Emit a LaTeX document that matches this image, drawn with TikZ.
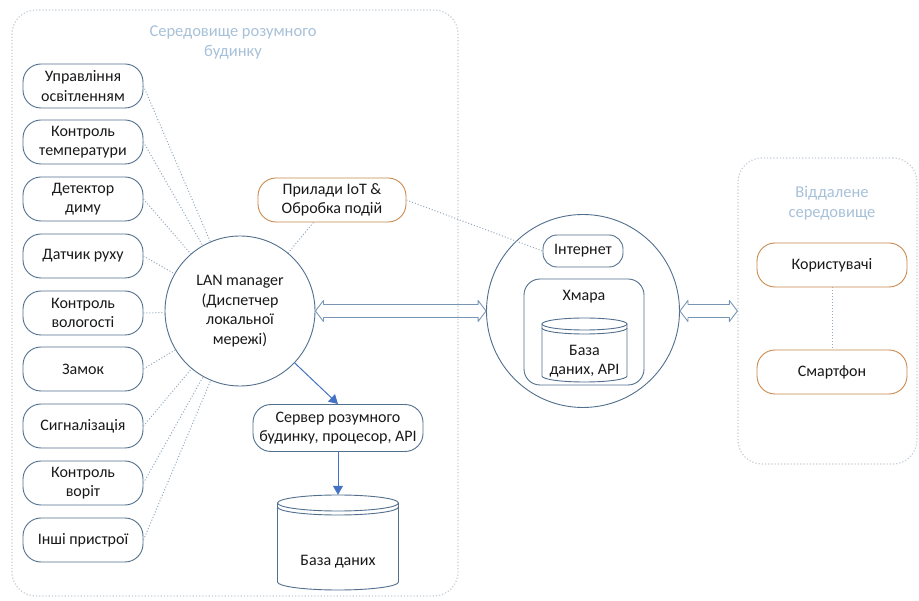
\documentclass[tikz,border=0pt]{standalone}
\usepackage{fontspec}
\setmainfont{Carlito}
\usetikzlibrary{arrows.meta,calc}

\definecolor{edge}{HTML}{52708E}
\definecolor{warm}{HTML}{C98A50}
\definecolor{dots}{HTML}{93A8BC}
\definecolor{frame}{HTML}{C5CFD8}
\definecolor{caption}{HTML}{A7C1D9}
\definecolor{flow}{HTML}{4472C4}
\definecolor{pipe}{HTML}{7896B4}

\tikzset{
  txt/.style={align=center, font=\fontsize{16}{19.5}\selectfont, text=black!90},
  dev/.style={txt, draw=edge, line width=0.9pt, rounded corners=18pt,
    minimum width=120pt, minimum height=44pt, inner sep=1pt},
  hot/.style={dev, draw=warm},
  zone/.style={draw=frame, dotted, line width=1.2pt, rounded corners=24pt},
  zonetitle/.style={align=center, font=\fontsize{16.5}{20}\selectfont, text=caption},
  link/.style={draw=dots, dotted, line width=1pt},
  flowarrow/.style={draw=flow, line width=1pt, -{Triangle[length=9pt,width=10pt]}},
  wide/.style={draw=pipe, line width=0.9pt, line join=round},
  hub/.style={txt, circle, draw=edge, line width=0.9pt, inner sep=0pt},
  drumline/.style={draw=edge, line width=0.9pt},
}

% cylinder outline: centre x, top y, bottom y, x radius, y radius
\newcommand\drumshape[5]{%
  \draw[drumline] (#1-#4,#2-#5) -- (#1-#4,#3+#5)
    arc[start angle=180, end angle=360, x radius=#4pt, y radius=#5pt]
    -- (#1+#4,#2-#5);
  \draw[drumline] (#1,#2-#5) ellipse[x radius=#4pt, y radius=#5pt];
  \draw[drumline] (#1-#4,#2-#5-4)
    arc[start angle=180, end angle=360, x radius=#4pt, y radius=#5pt];
}

% hollow two-headed horizontal arrow between two anchors
\newcommand\twoway[2]{%
  \draw[wide] let \p1=(#1), \p2=(#2) in
    (\x1,\y1) -- (\x1+8,\y1+10.5) -- (\x1+8,\y1+6.5) -- (\x2-8,\y1+6.5)
    -- (\x2-8,\y1+10.5) -- (\x2,\y1) -- (\x2-8,\y1-10.5) -- (\x2-8,\y1-6.5)
    -- (\x1+8,\y1-6.5) -- (\x1+8,\y1-10.5) -- cycle;
}

\begin{document}
\begin{tikzpicture}[x=1pt, y=1pt]
\useasboundingbox (0,0) rectangle (919,-601);
\fill[white] (0,0) rectangle (919,-601);

% environments
\node[zone, minimum width=446pt, minimum height=586pt] (home) at (235,-303) {};
\node[zonetitle] (hometitle) at (233,-43) {Середовище розумного\\будинку};
\node[zone, minimum width=179pt, minimum height=306pt] (remote) at (827.5,-311) {};
\node[zonetitle] (remotetitle) at (832,-203) {Віддалене\\середовище};

% home devices
\node[dev] (d1) at (83,-86)  {Управління\\освітленням};
\node[dev] (d2) at (83,-142) {Контроль\\температури};
\node[dev] (d3) at (83,-199) {Детектор\\диму};
\node[dev] (d4) at (83,-256) {Датчик руху};
\node[dev] (d5) at (83,-313) {Контроль\\вологості};
\node[dev] (d6) at (83,-369) {Замок};
\node[dev] (d7) at (83,-426) {Сигналізація};
\node[dev] (d8) at (83,-483) {Контроль\\воріт};
\node[dev] (d9) at (83,-540) {Інші пристрої};

% LAN hub, IoT, server
\node[hub, minimum size=150pt] (lan) at (240,-311)
  {LAN manager\\(Диспетчер\\локальної\\мережі)};
\node[hot, minimum width=148pt] (iot) at (332,-200) {Прилади IoT \&\\Обробка подій};
\node[dev, minimum width=170pt, minimum height=47pt] (srv) at (338,-428)
  {Сервер розумного\\будинку, процесор, API};
\node[minimum width=121pt, minimum height=95pt, inner sep=0pt] (db) at (338,-542.5) {};
\drumshape{338}{-495}{-590}{60.5}{8}
\node[txt] (dbtext) at (338,-562) {База даних};

% cloud
\node[hub, minimum size=193pt] (cloud) at (583,-311) {};
\node[dev, minimum width=80pt, minimum height=32pt, rounded corners=14pt] (inet) at (583,-251) {Інтернет};
\node[draw=edge, line width=0.9pt, rounded corners=16pt, minimum width=120pt,
  minimum height=106pt] (cloudbox) at (584,-332) {};
\node[txt] (cloudtitle) at (584,-297) {Хмара};
\node[minimum width=85pt, minimum height=64pt, inner sep=0pt] (clouddb) at (584.5,-350) {};
\drumshape{584.5}{-318}{-382}{42.5}{6}
\node[txt] (clouddbtext) at (584.5,-361) {База\\даних, API};

% remote side
\node[hot, minimum width=150pt] (users) at (832,-265) {Користувачі};
\node[hot, minimum width=150pt] (phone) at (832,-372) {Смартфон};

% connectors
\foreach \n in {d1,d2,d3,d4,d5,d6,d7,d8,d9}
  \draw[link] (\n.east) -- (lan);
\draw[link] (iot) -- (lan);
\draw[link] (iot.east) -- (inet.west);
\draw[link] (users) -- (phone);

\draw[flowarrow] (lan) -- (srv.north);
\draw[flowarrow] (srv.south) -- (db.north);

\twoway{lan.east}{cloud.west}
\twoway{cloud.east}{remote.west}
\end{tikzpicture}
\end{document}
